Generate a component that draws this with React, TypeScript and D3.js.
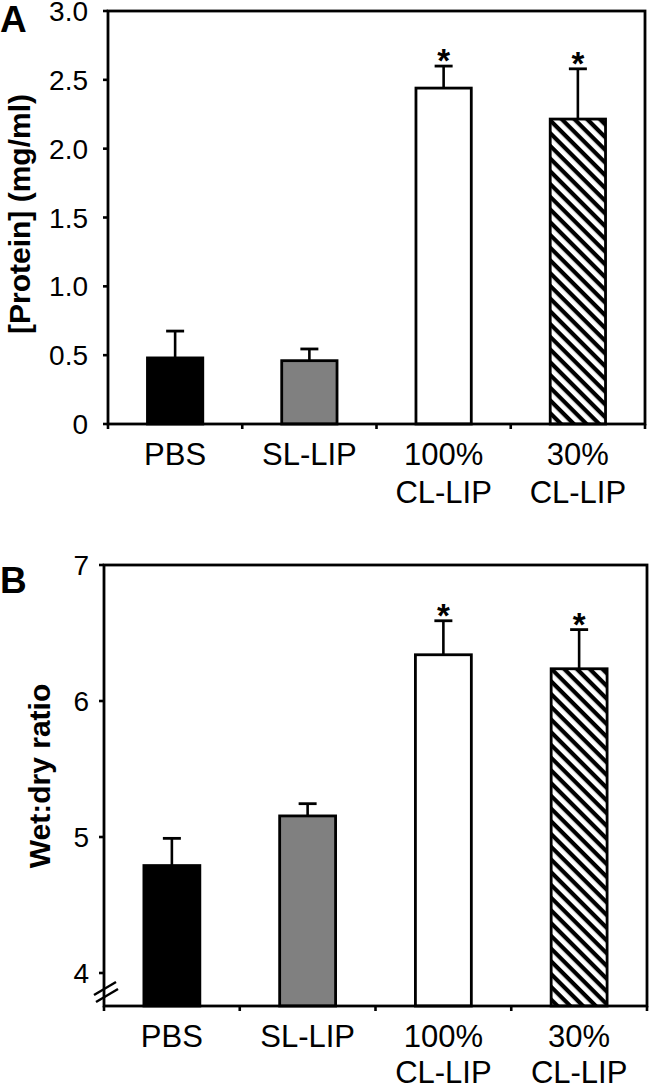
import React from "react";
import * as d3 from "d3";

const categories = ["PBS", "SL-LIP", "100% CL-LIP", "30% CL-LIP"];
const labelLines = [["PBS"], ["SL-LIP"], ["100%", "CL-LIP"], ["30%", "CL-LIP"]];
const proteinMean = [0.48, 0.46, 2.44, 2.215];
const proteinUpper = [0.675, 0.545, 2.6, 2.58];
const wetDryMean = [4.79, 5.155, 6.34, 6.237];
const wetDryUpper = [4.99, 5.245, 6.59, 6.525];
const significant = [false, false, true, true];
const proteinTicks = [0, 0.5, 1.0, 1.5, 2.0, 2.5, 3.0];
const proteinTickLabels = ["0", "0.5", "1.0", "1.5", "2.0", "2.5", "3.0"];
const wetDryTicks = [4, 5, 6, 7];
const wetDryTickLabels = ["4", "5", "6", "7"];

const FONT = "'Liberation Sans', Arial, Helvetica, sans-serif";
const fills = ["#000000", "#808080", "#ffffff", "url(#hatch)"];

type PanelProps = {
  letter: string;
  letterY: number;
  left: number;
  right: number;
  top: number;
  bottom: number;
  y: d3.ScaleLinear<number, number>;
  ticks: number[];
  tickLabels: string[];
  mean: number[];
  upper: number[];
  title: string;
  titleX: number;
  titleY: number;
  tickGap: number;
  lineGap: number;
  broken?: boolean;
};

function Panel(p: PanelProps) {
  const x = d3.scaleBand<string>().domain(categories).range([p.left, p.right]).padding(0);
  const bw = x.bandwidth() * 0.412;
  const boundaries = d3.range(categories.length + 1).map((i) => p.left + i * x.step());
  return (
    <g>
      <text x={0} y={p.letterY} fontFamily={FONT} fontWeight="bold" fontSize={37}>
        {p.letter}
      </text>
      {categories.map((c, i) => {
        const cx = (x(c) as number) + x.bandwidth() / 2;
        const yTop = p.y(p.mean[i]);
        const yUp = p.y(p.upper[i]);
        return (
          <g key={c}>
            <line x1={cx} x2={cx} y1={yTop} y2={yUp} stroke="#000" strokeWidth={2.6} />
            <line x1={cx - 9} x2={cx + 9} y1={yUp} y2={yUp} stroke="#000" strokeWidth={2.8} />
            <rect
              x={cx - bw / 2}
              y={yTop}
              width={bw}
              height={p.bottom - yTop}
              fill={fills[i]}
              stroke="#000"
              strokeWidth={2.8}
            />
            {significant[i] && (
              <text
                x={cx}
                y={yUp + 6}
                textAnchor="middle"
                fontFamily={FONT}
                fontSize={33}
                fontWeight="bold"
              >
                *
              </text>
            )}
            {labelLines[i].map((ln, k) => (
              <text
                key={k}
                x={cx}
                y={p.bottom + 41 + k * p.lineGap}
                textAnchor="middle"
                fontFamily={FONT}
                fontSize={31}
              >
                {ln}
              </text>
            ))}
          </g>
        );
      })}
      <rect
        x={p.left}
        y={p.top}
        width={p.right - p.left}
        height={p.bottom - p.top}
        fill="none"
        stroke="#000"
        strokeWidth={2.8}
      />
      {p.ticks.map((t, i) => (
        <g key={t}>
          <line x1={p.left - 5} x2={p.left} y1={p.y(t)} y2={p.y(t)} stroke="#000" strokeWidth={2.6} />
          <text
            x={p.left - p.tickGap}
            y={p.y(t)}
            dy="0.36em"
            textAnchor="end"
            fontFamily={FONT}
            fontSize={28}
          >
            {p.tickLabels[i]}
          </text>
        </g>
      ))}
      {boundaries.map((bx, i) => (
        <line key={i} x1={bx} x2={bx} y1={p.bottom} y2={p.bottom + 5} stroke="#000" strokeWidth={2.6} />
      ))}
      {p.broken && (
        <g stroke="#000" strokeWidth={2.4}>
          <line x1={p.left - 10} y1={p.y(4) + 22} x2={p.left + 12} y2={p.y(4) + 9} />
          <line x1={p.left - 8} y1={p.y(4) + 29} x2={p.left + 14} y2={p.y(4) + 16} />
        </g>
      )}
      <text
        transform={`translate(${p.titleX},${p.titleY}) rotate(-90)`}
        textAnchor="middle"
        fontFamily={FONT}
        fontWeight="bold"
        fontSize={30}
      >
        {p.title}
      </text>
    </g>
  );
}

export default function App() {
  const yA = d3.scaleLinear().domain([0, 3]).range([424, 11]);
  const yB = d3.scaleLinear().domain([4, 7]).range([973, 565]);
  return (
    <svg
      width={650}
      height={1087}
      style={{ position: "absolute", left: 0, top: 0, display: "block", background: "#fff" }}
    >
      <defs>
        <pattern id="hatch" patternUnits="userSpaceOnUse" width={9} height={9} patternTransform="rotate(45)">
          <rect width={9} height={9} fill="#fff" />
          <rect x={0} y={0} width={9} height={4.2} fill="#000" />
        </pattern>
      </defs>
      <rect x={0} y={0} width={650} height={1087} fill="#fff" />
      <Panel
        letter="A"
        letterY={32}
        left={108}
        right={645}
        top={11}
        bottom={424}
        y={yA}
        ticks={proteinTicks}
        tickLabels={proteinTickLabels}
        mean={proteinMean}
        upper={proteinUpper}
        title="[Protein] (mg/ml)"
        titleX={30}
        titleY={214}
        tickGap={20}
        lineGap={38}
      />
      <Panel
        letter="B"
        letterY={593}
        left={104}
        right={647}
        top={565}
        bottom={1006}
        y={yB}
        ticks={wetDryTicks}
        tickLabels={wetDryTickLabels}
        mean={wetDryMean}
        upper={wetDryUpper}
        title="Wet:dry ratio"
        titleX={50}
        titleY={776}
        tickGap={15}
        lineGap={36}
        broken
      />
    </svg>
  );
}
